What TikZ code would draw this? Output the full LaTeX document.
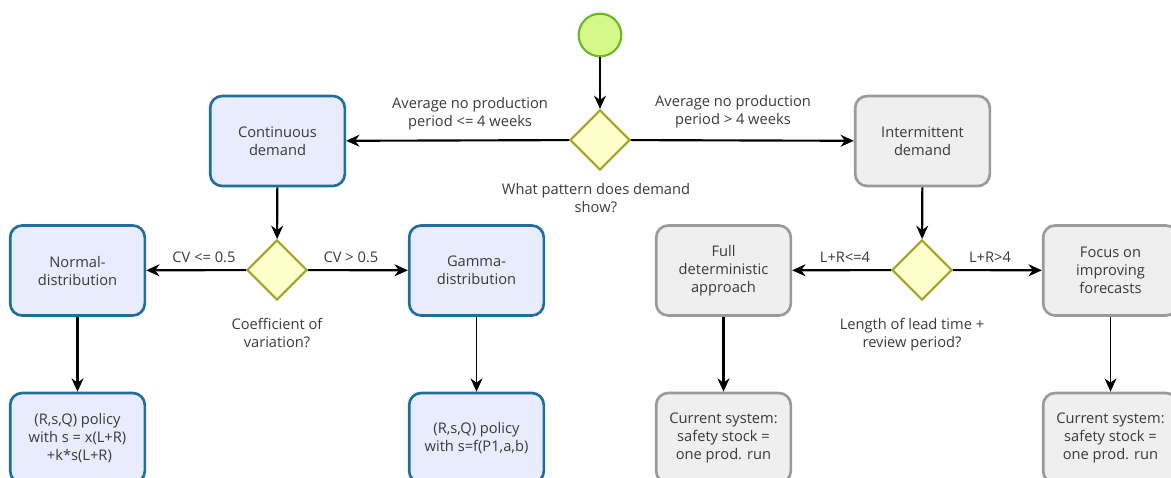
\documentclass[tikz,border=0pt]{standalone}
\usepackage{fontspec}
\setmainfont{Open Sans}
\usetikzlibrary{shapes.geometric,arrows.meta}
\definecolor{bluefill}{HTML}{E8ECFC}
\definecolor{blueline}{HTML}{1F6E9C}
\definecolor{grayfill}{HTML}{EFEFEF}
\definecolor{grayline}{HTML}{9A9A9A}
\definecolor{diafill}{HTML}{FFFFCC}
\definecolor{dialine}{HTML}{A3A32A}
\definecolor{startfill}{HTML}{D6F88A}
\definecolor{startline}{HTML}{6AB82A}
\definecolor{txt}{HTML}{3A3A3A}
\tikzset{
  box/.style={rectangle, rounded corners=9pt, line width=2pt, minimum width=101pt, minimum height=67.5pt, align=center, text=txt, font=\fontsize{11}{13.5}\selectfont},
  bluebox/.style={box, draw=blueline, fill=bluefill},
  graybox/.style={box, draw=grayline, fill=grayfill},
  dia/.style={diamond, draw=dialine, fill=diafill, line width=1.6pt, minimum width=45pt, minimum height=45pt, inner sep=0pt},
  lbl/.style={align=center, text=txt, font=\fontsize{11}{13.5}\selectfont},
  thick arrow/.style={draw, line width=1.6pt, -{Stealth[length=10pt,width=9pt]}},
  thin arrow/.style={draw, line width=0.8pt, -{Stealth[length=10pt,width=9pt]}}
}
\begin{document}
\begin{tikzpicture}[x=0.75pt,y=-0.75pt]
\useasboundingbox (0,0) rectangle (1171,478);
\clip (0,0) rectangle (1171,478);
\node[circle, draw=startline, fill=startfill, line width=1.6pt, minimum size=32pt, inner sep=0pt] (start) at (600,35) {};
\node[dia] (d1) at (600,140) {};
\node[bluebox] (cont) at (277.5,141) {Continuous\\demand};
\node[graybox] (inter) at (922.5,141) {Intermittent\\demand};
\node[dia] (d2) at (277,270) {};
\node[bluebox] (norm) at (77.5,270.5) {Normal-\\distribution};
\node[bluebox] (gamma) at (476.5,270.5) {Gamma-\\distribution};
\node[dia] (d3) at (922,270) {};
\node[graybox] (full) at (723.5,270.5) {Full\\deterministic\\approach};
\node[graybox] (focus) at (1110.5,270.5) {Focus on\\improving\\forecasts};
\node[bluebox] (p1) at (77.5,438) {(R,s,Q) policy\\with s = x(L+R)\\ \ +k*s(L+R)};
\node[bluebox] (p2) at (476.5,438) {(R,s,Q) policy\\with s=f(P1,a,b)};
\node[graybox] (c1) at (723.5,438) {Current system:\\safety stock =\\ one prod. run};
\node[graybox] (c2) at (1110.5,438) {Current system:\\safety stock =\\ one prod. run};

\draw[thin arrow] (start) -- (d1);
\draw[thick arrow] (d1) -- (cont);
\draw[thick arrow] (d1) -- (inter);
\draw[thick arrow] (cont) -- (d2);
\draw[thick arrow] (d2) -- (norm);
\draw[thick arrow] (d2) -- (gamma);
\draw[thick arrow] (inter) -- (d3);
\draw[thick arrow] (d3) -- (full);
\draw[thick arrow] (d3) -- (focus);
\draw[thick arrow] (norm) -- (p1);
\draw[thin arrow] (gamma) -- (p2);
\draw[thick arrow] (full) -- (c1);
\draw[thin arrow] (focus) -- (c2);

\node[lbl] (l1) at (470,114) {Average no production\\period <= 4 weeks};
\node[lbl] (l2) at (733,112) {Average no production\\period > 4 weeks};
\node[lbl] (l3) at (596,198) {What pattern does demand\\show?};
\node[lbl] (l4) at (204,257) {CV <= 0.5};
\node[lbl] (l5) at (351,257) {CV > 0.5};
\node[lbl] (l6) at (277,333) {Coefficient of\\variation?};
\node[lbl] (l7) at (845,257) {L+R<=4};
\node[lbl] (l8) at (990,257) {L+R>4};
\node[lbl] (l9) at (912,335) {Length of lead time +\\review period?};
\end{tikzpicture}
\end{document}
